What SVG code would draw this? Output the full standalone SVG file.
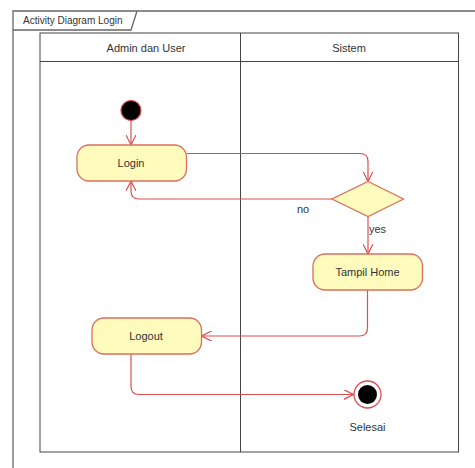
<svg xmlns="http://www.w3.org/2000/svg" width="475" height="468" viewBox="0 0 475 468">
<defs>
<style>
.frame{fill:none;stroke:#666;stroke-width:1.3}
.lane{fill:none;stroke:#444;stroke-width:1}
.act{fill:#fffbbd;stroke:#d9705f;stroke-width:1.3}
.conn{fill:none;stroke:#d94f4f;stroke-width:1.2}
text{font-family:"Liberation Sans",Arial,sans-serif;font-size:11px;fill:#333}
.lbl{font-size:10px}
</style>
<marker id="arr" viewBox="0 0 10 10" refX="10" refY="5" markerWidth="10" markerHeight="10" markerUnits="userSpaceOnUse" orient="auto">
<path d="M0,0 L10,5 L0,10" fill="none" stroke="#d94f4f" stroke-width="1.2"/>
</marker>
</defs>
<rect width="475" height="468" fill="#fff"/>
<g id="frame">
<path class="frame" d="M13,470 V11 H476"/>
<path class="frame" d="M13,30 H131 L137,11"/>
<text class="lbl" x="23" y="24">Activity Diagram Login</text>
</g>
<g id="swimlanes">
<rect class="lane" x="40" y="33" width="418.5" height="419"/>
<line class="lane" x1="40" y1="61.5" x2="458.5" y2="61.5"/>
<line class="lane" x1="240.5" y1="33" x2="240.5" y2="452"/>
<text x="146" y="52" text-anchor="middle">Admin dan User</text>
<text x="349" y="52" text-anchor="middle">Sistem</text>
</g>
<g id="connectors">
<path class="conn" d="M131,121 V145" marker-end="url(#arr)"/>
<path class="conn" d="M186.5,153.5 H360 Q368,153.5 368,161.5 V181.5" marker-end="url(#arr)"/>
<path class="conn" d="M332,199 H139 Q131,199 131,191 V181" marker-end="url(#arr)"/>
<path class="conn" d="M368,216.5 V254" marker-end="url(#arr)"/>
<path class="conn" d="M367.5,290 V328 Q367.5,336 359.5,336 H201.5" marker-end="url(#arr)"/>
<path class="conn" d="M131,354 V386.5 Q131,394.5 139,394.5 H353.5" marker-end="url(#arr)"/>
<text x="303" y="213" text-anchor="middle">no</text>
<text x="369" y="233">yes</text>
</g>
<g id="start">
<circle cx="131" cy="110.5" r="10" fill="#000" stroke="#d94f4f" stroke-width="1.2"/>
</g>
<g id="login">
<rect class="act" x="77" y="145" width="109.5" height="36" rx="12"/>
<text x="131" y="166.5" text-anchor="middle">Login</text>
</g>
<g id="decision">
<polygon class="act" points="368,181.5 403.5,199 368,216.5 332,199"/>
</g>
<g id="tampil-home">
<rect class="act" x="313" y="254" width="109.5" height="36" rx="12"/>
<text x="367.5" y="276" text-anchor="middle">Tampil Home</text>
</g>
<g id="logout">
<rect class="act" x="92" y="318" width="109.5" height="36" rx="12"/>
<text x="146" y="340" text-anchor="middle">Logout</text>
</g>
<g id="end">
<circle cx="367.5" cy="394.5" r="13.5" fill="#fff" stroke="#d94f4f" stroke-width="1.3"/>
<circle cx="367.5" cy="394.5" r="9.5" fill="#000"/>
<text x="367.5" y="430.5" text-anchor="middle">Selesai</text>
</g>
</svg>
